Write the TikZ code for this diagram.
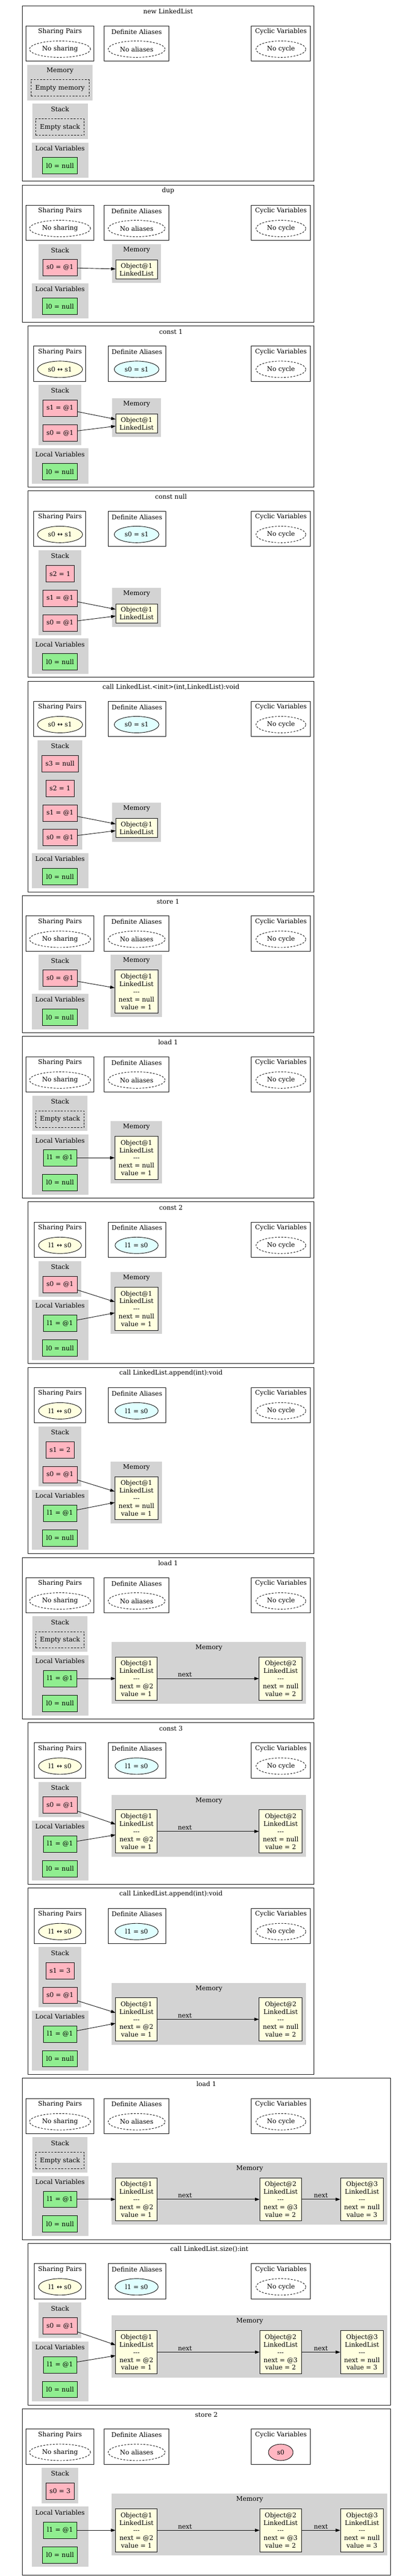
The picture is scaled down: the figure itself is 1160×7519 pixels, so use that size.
\documentclass[tikz,border=0pt]{standalone}
\usepackage{fontspec}
\setmainfont{DejaVu Serif}
\newfontfamily\arrowfont{DejaVu Sans}
\usepackage{tikz}
\usetikzlibrary{shapes.geometric}
\usetikzlibrary{arrows.meta}
\definecolor{clustergray}{RGB}{211,211,211}
\definecolor{stackpink}{RGB}{255,182,193}
\definecolor{localgreen}{RGB}{144,238,144}
\definecolor{objyellow}{RGB}{255,255,224}
\definecolor{aliascyan}{RGB}{224,255,255}
\newcommand{\gvfont}{\fontsize{14}{16.8}\selectfont}
\tikzset{
    panel/.style = {draw=black, line width=1pt},
    infobox/.style = {draw=black, line width=1pt},
    cluster/.style = {fill=clustergray},
    lbl/.style = {inner sep=0pt, font=\gvfont},
    stacknode/.style = {rectangle, draw=black, line width=1pt, fill=stackpink, minimum height=36pt, minimum width=54pt, inner xsep=8pt, inner ysep=0pt, font=\gvfont},
    localnode/.style = {stacknode, fill=localgreen},
    emptynode/.style = {rectangle, draw=black, line width=1pt, dash pattern=on 4pt off 3pt, minimum height=36pt, inner xsep=8pt, font=\gvfont},
    objnode/.style = {rectangle, draw=black, line width=1pt, fill=objyellow, align=center, minimum height=94.5pt, inner xsep=8pt, inner ysep=0pt, font=\gvfont},
    objsmall/.style = {objnode, minimum height=42pt},
    noneell/.style = {ellipse, draw=black, line width=1pt, dash pattern=on 4pt off 3pt, minimum height=36pt, inner sep=0pt, font=\gvfont},
    nosharing/.style = {noneell, minimum width=134pt},
    noaliases/.style = {noneell, minimum width=125pt},
    nocycle/.style = {noneell, minimum width=109.5pt},
    pairell/.style = {ellipse, draw=black, line width=1pt, fill=objyellow, minimum height=36pt, inner sep=0pt, font=\gvfont},
    aliasell/.style = {pairell, fill=aliascyan},
    cycleell/.style = {pairell, fill=stackpink, minimum width=54pt},
    ref/.style = {-{Triangle[length=10pt,width=7pt]}, line width=1pt, black}, % pointer
    nextlbl/.style = {above, inner sep=3pt, font=\gvfont} % field edge
}
\begin{document}
\begin{tikzpicture}[x=0.75pt,y=-0.75pt]
\useasboundingbox[fill=white] (0,0) rectangle (1160,7519);

\draw[panel] (65,16.5) rectangle (918,529);
\node[lbl] (p1t) at (491.5,33.5) {new LinkedList};
\draw[infobox] (76,75.5) rectangle (275,178.5);
\node[lbl] (p1spt) at (175.5,92.5) {Sharing Pairs};
\node[nosharing] (p1sp) at (175.5,143.5) {No sharing};
\draw[infobox] (305,75.5) rectangle (494,178.5);
\node[lbl] (p1dat) at (399.5,92.5) {Definite Aliases};
\node[noaliases] (p1da) at (399.5,143.5) {No aliases};
\draw[infobox] (735,75.5) rectangle (908,178.5);
\node[lbl] (p1cvt) at (821.5,92.5) {Cyclic Variables};
\node[nocycle] (p1cv) at (821.5,143.5) {No cycle};
\fill[cluster] (80,189) rectangle (271,293);
\node[lbl] (p1memt) at (175.5,206) {Memory};
\node[emptynode, minimum width=127pt] (p1mem) at (175.5,257) {Empty memory};
\fill[cluster] (94,302) rectangle (257,406);
\node[lbl] (p1stt) at (175.5,319) {Stack};
\node[emptynode, minimum width=106pt] (p1st) at (175.5,371) {Empty stack};
\fill[cluster] (93,416) rectangle (259,519);
\node[lbl] (p1lvt) at (175.5,433) {Local Variables};
\node[localnode] (p1l0) at (175.5,484) {l0 = null};

\draw[panel] (65,540) rectangle (918,940);
\node[lbl] (p2t) at (491.5,557) {dup};
\draw[infobox] (76,599) rectangle (275,702);
\node[lbl] (p2spt) at (175.5,616) {Sharing Pairs};
\node[nosharing] (p2sp) at (175.5,667) {No sharing};
\draw[infobox] (305,599) rectangle (494,702);
\node[lbl] (p2dat) at (399.5,616) {Definite Aliases};
\node[noaliases] (p2da) at (399.5,667) {No aliases};
\draw[infobox] (735,599) rectangle (908,702);
\node[lbl] (p2cvt) at (821.5,616) {Cyclic Variables};
\node[nocycle] (p2cv) at (821.5,667) {No cycle};
\fill[cluster] (113,713) rectangle (237,816);
\node[lbl] (p2stt) at (175.5,730) {Stack};
\node[stacknode] (p2s0) at (175.5,781) {s0 = @1};
\fill[cluster] (328,713) rectangle (471,826);
\node[lbl] (p2memt) at (399.5,730) {Memory};
\node[objsmall] (p2o1) at (399.5,786.5) {Object@1\\LinkedList};
\fill[cluster] (93,827) rectangle (259,929);
\node[lbl] (p2lvt) at (175.5,844) {Local Variables};
\node[localnode] (p2l0) at (175.5,894.5) {l0 = null};
\draw[ref] (p2s0) -- (p2o1);

\draw[panel] (82.5,951) rectangle (918,1422);
\node[lbl] (p3t) at (500,968) {const 1};
\draw[infobox] (99,1010) rectangle (251,1113);
\node[lbl] (p3spt) at (175.5,1027) {Sharing Pairs};
\node[pairell, minimum width=99pt] (p3sp) at (175.5,1078) {s0 {\arrowfont ↔} s1};
\draw[infobox] (316,1010) rectangle (485,1113);
\node[lbl] (p3dat) at (400.5,1027) {Definite Aliases};
\node[aliasell, minimum width=98pt] (p3da) at (399.5,1078) {s0 = s1};
\draw[infobox] (735,1010) rectangle (908,1113);
\node[lbl] (p3cvt) at (821.5,1027) {Cyclic Variables};
\node[nocycle] (p3cv) at (821.5,1078) {No cycle};
\fill[cluster] (113,1123) rectangle (238,1299);
\node[lbl] (p3stt) at (175.5,1140) {Stack};
\node[stacknode] (p3s1) at (175.5,1191.5) {s1 = @1};
\node[stacknode] (p3s0) at (175.5,1264) {s0 = @1};
\fill[cluster] (328,1162) rectangle (471,1275);
\node[lbl] (p3memt) at (399.5,1179) {Memory};
\node[objsmall] (p3o1) at (399.5,1236) {Object@1\\LinkedList};
\fill[cluster] (93,1309) rectangle (259,1412);
\node[lbl] (p3lvt) at (175.5,1326) {Local Variables};
\node[localnode] (p3l0) at (175.5,1377) {l0 = null};
\draw[ref] (p3s1) -- (p3o1);
\draw[ref] (p3s0) -- (p3o1);

\draw[panel] (82.5,1433) rectangle (918,1977);
\node[lbl] (p4t) at (500,1450) {const null};
\draw[infobox] (99,1492) rectangle (251,1595);
\node[lbl] (p4spt) at (175.5,1509) {Sharing Pairs};
\node[pairell, minimum width=99pt] (p4sp) at (175.5,1560) {s0 {\arrowfont ↔} s1};
\draw[infobox] (316,1492) rectangle (485,1595);
\node[lbl] (p4dat) at (400.5,1509) {Definite Aliases};
\node[aliasell, minimum width=98pt] (p4da) at (399.5,1560) {s0 = s1};
\draw[infobox] (735,1492) rectangle (908,1595);
\node[lbl] (p4cvt) at (821.5,1509) {Cyclic Variables};
\node[nocycle] (p4cv) at (821.5,1560) {No cycle};
\fill[cluster] (113,1606) rectangle (238,1854);
\node[lbl] (p4stt) at (175.5,1623) {Stack};
\node[stacknode] (p4s2) at (175.5,1674.5) {s2 = 1};
\node[stacknode] (p4s1) at (175.5,1746.5) {s1 = @1};
\node[stacknode] (p4s0) at (175.5,1818.5) {s0 = @1};
\fill[cluster] (328,1716.5) rectangle (471,1829.5);
\node[lbl] (p4memt) at (399.5,1733.5) {Memory};
\node[objsmall] (p4o1) at (399.5,1790.5) {Object@1\\LinkedList};
\fill[cluster] (93,1863.5) rectangle (259,1967);
\node[lbl] (p4lvt) at (175.5,1880.5) {Local Variables};
\node[localnode] (p4l0) at (175.5,1931.5) {l0 = null};
\draw[ref] (p4s1) -- (p4o1);
\draw[ref] (p4s0) -- (p4o1);

\draw[panel] (82.5,1988) rectangle (918,2603.5);
\node[lbl] (p5t) at (500,2005) {call LinkedList.<init>(int,LinkedList):void};
\draw[infobox] (99,2047) rectangle (251,2150);
\node[lbl] (p5spt) at (175.5,2064) {Sharing Pairs};
\node[pairell, minimum width=99pt] (p5sp) at (175.5,2115) {s0 {\arrowfont ↔} s1};
\draw[infobox] (316,2047) rectangle (485,2150);
\node[lbl] (p5dat) at (400.5,2064) {Definite Aliases};
\node[aliasell, minimum width=98pt] (p5da) at (399.5,2115) {s0 = s1};
\draw[infobox] (735,2047) rectangle (908,2150);
\node[lbl] (p5cvt) at (821.5,2064) {Cyclic Variables};
\node[nocycle] (p5cv) at (821.5,2115) {No cycle};
\fill[cluster] (110.5,2161) rectangle (240,2480);
\node[lbl] (p5stt) at (175.5,2178) {Stack};
\node[stacknode] (p5s3) at (175.5,2229) {s3 = null};
\node[stacknode] (p5s2) at (175.5,2301) {s2 = 1};
\node[stacknode] (p5s1) at (175.5,2373) {s1 = @1};
\node[stacknode] (p5s0) at (175.5,2445) {s0 = @1};
\fill[cluster] (328,2343) rectangle (471,2456.5);
\node[lbl] (p5memt) at (399.5,2360) {Memory};
\node[objsmall] (p5o1) at (399.5,2417) {Object@1\\LinkedList};
\fill[cluster] (93,2490) rectangle (259,2593);
\node[lbl] (p5lvt) at (175.5,2507) {Local Variables};
\node[localnode] (p5l0) at (175.5,2558.5) {l0 = null};
\draw[ref] (p5s1) -- (p5o1);
\draw[ref] (p5s0) -- (p5o1);

\draw[panel] (65,2614.5) rectangle (918,3014.5);
\node[lbl] (p6t) at (491.5,2631.5) {store 1};
\draw[infobox] (76,2673.5) rectangle (275,2776.5);
\node[lbl] (p6spt) at (175.5,2690.5) {Sharing Pairs};
\node[nosharing] (p6sp) at (175.5,2741.5) {No sharing};
\draw[infobox] (305,2673.5) rectangle (494,2776.5);
\node[lbl] (p6dat) at (399.5,2690.5) {Definite Aliases};
\node[noaliases] (p6da) at (399.5,2741.5) {No aliases};
\draw[infobox] (735,2673.5) rectangle (908,2776.5);
\node[lbl] (p6cvt) at (821.5,2690.5) {Cyclic Variables};
\node[nocycle] (p6cv) at (821.5,2741.5) {No cycle};
\fill[cluster] (113,2787) rectangle (238,2890.5);
\node[lbl] (p6stt) at (175.5,2804) {Stack};
\node[stacknode] (p6s0) at (175.5,2855.5) {s0 = @1};
\fill[cluster] (324,2787) rectangle (474,2968);
\node[lbl] (p6memt) at (399,2804) {Memory};
\node[objnode] (p6o1) at (399,2894.5) {Object@1\\LinkedList\\-{}-{}-\\next = null\\value = 1};
\fill[cluster] (93,2900.5) rectangle (259,3004);
\node[lbl] (p6lvt) at (175.5,2917.5) {Local Variables};
\node[localnode] (p6l0) at (175.5,2969.5) {l0 = null};
\draw[ref] (p6s0) -- (p6o1);

\draw[panel] (65,3025.5) rectangle (918,3497);
\node[lbl] (p7t) at (491.5,3042.5) {load 1};
\draw[infobox] (76,3084.5) rectangle (275,3187.5);
\node[lbl] (p7spt) at (175.5,3101.5) {Sharing Pairs};
\node[nosharing] (p7sp) at (175.5,3152.5) {No sharing};
\draw[infobox] (305,3084.5) rectangle (494,3187.5);
\node[lbl] (p7dat) at (399.5,3101.5) {Definite Aliases};
\node[noaliases] (p7da) at (399.5,3152.5) {No aliases};
\draw[infobox] (735,3084.5) rectangle (908,3187.5);
\node[lbl] (p7cvt) at (821.5,3101.5) {Cyclic Variables};
\node[nocycle] (p7cv) at (821.5,3152.5) {No cycle};
\fill[cluster] (94,3198) rectangle (256,3301.5);
\node[lbl] (p7stt) at (175.5,3215) {Stack};
\node[emptynode, minimum width=106pt] (p7st) at (175.5,3266.5) {Empty stack};
\fill[cluster] (93,3311.5) rectangle (259,3487);
\node[lbl] (p7lvt) at (175.5,3328.5) {Local Variables};
\node[localnode] (p7l1) at (175.5,3379.5) {l1 = @1};
\node[localnode] (p7l0) at (175.5,3451.5) {l0 = null};
\fill[cluster] (324,3272.5) rectangle (474,3453.5);
\node[lbl] (p7memt) at (399,3289.5) {Memory};
\node[objnode] (p7o1) at (399,3379.5) {Object@1\\LinkedList\\-{}-{}-\\next = null\\value = 1};
\draw[ref] (p7l1) -- (p7o1);

\draw[panel] (82.5,3508) rectangle (918,3980);
\node[lbl] (p8t) at (500,3525) {const 2};
\draw[infobox] (100,3567) rectangle (251,3670);
\node[lbl] (p8spt) at (175.5,3584) {Sharing Pairs};
\node[pairell, minimum width=94pt] (p8sp) at (175.5,3635) {l1 {\arrowfont ↔} s0};
\draw[infobox] (316,3567) rectangle (485,3670);
\node[lbl] (p8dat) at (400.5,3584) {Definite Aliases};
\node[aliasell, minimum width=94.5pt] (p8da) at (399.5,3635) {l1 = s0};
\draw[infobox] (735,3567) rectangle (908,3670);
\node[lbl] (p8cvt) at (821.5,3584) {Cyclic Variables};
\node[nocycle] (p8cv) at (821.5,3635) {No cycle};
\fill[cluster] (113,3681) rectangle (238,3784.5);
\node[lbl] (p8stt) at (175.5,3698) {Stack};
\node[stacknode] (p8s0) at (175.5,3749) {s0 = @1};
\fill[cluster] (93,3794) rectangle (259,3969.5);
\node[lbl] (p8lvt) at (175.5,3811) {Local Variables};
\node[localnode] (p8l1) at (175.5,3862.5) {l1 = @1};
\node[localnode] (p8l0) at (175.5,3934.5) {l0 = null};
\fill[cluster] (324,3712.5) rectangle (474,3893.5);
\node[lbl] (p8memt) at (399,3729.5) {Memory};
\node[objnode] (p8o1) at (399,3820) {Object@1\\LinkedList\\-{}-{}-\\next = null\\value = 1};
\draw[ref] (p8s0) -- (p8o1);
\draw[ref] (p8l1) -- (p8o1);

\draw[panel] (82.5,3991) rectangle (918,4534.5);
\node[lbl] (p9t) at (500,4008) {call LinkedList.append(int):void};
\draw[infobox] (100,4050) rectangle (251,4153);
\node[lbl] (p9spt) at (175.5,4067) {Sharing Pairs};
\node[pairell, minimum width=94pt] (p9sp) at (175.5,4118) {l1 {\arrowfont ↔} s0};
\draw[infobox] (316,4050) rectangle (485,4153);
\node[lbl] (p9dat) at (400.5,4067) {Definite Aliases};
\node[aliasell, minimum width=94.5pt] (p9da) at (399.5,4118) {l1 = s0};
\draw[infobox] (735,4050) rectangle (908,4153);
\node[lbl] (p9cvt) at (821.5,4067) {Cyclic Variables};
\node[nocycle] (p9cv) at (821.5,4118) {No cycle};
\fill[cluster] (113,4163.5) rectangle (238,4339);
\node[lbl] (p9stt) at (175.5,4180.5) {Stack};
\node[stacknode] (p9s1) at (175.5,4232) {s1 = 2};
\node[stacknode] (p9s0) at (175.5,4304) {s0 = @1};
\fill[cluster] (324,4266.5) rectangle (474,4446.5);
\node[lbl] (p9memt) at (399,4283.5) {Memory};
\node[objnode] (p9o1) at (399,4373) {Object@1\\LinkedList\\-{}-{}-\\next = null\\value = 1};
\fill[cluster] (93,4349) rectangle (259,4524);
\node[lbl] (p9lvt) at (175.5,4366) {Local Variables};
\node[localnode] (p9l1) at (175.5,4417) {l1 = @1};
\node[localnode] (p9l0) at (175.5,4489) {l0 = null};
\draw[ref] (p9s0) -- (p9o1);
\draw[ref] (p9l1) -- (p9o1);

\draw[panel] (65,4546) rectangle (918,5017);
\node[lbl] (p10t) at (491.5,4563) {load 1};
\draw[infobox] (76,4605) rectangle (275,4708);
\node[lbl] (p10spt) at (175.5,4622) {Sharing Pairs};
\node[nosharing] (p10sp) at (175.5,4673) {No sharing};
\draw[infobox] (305,4605) rectangle (494,4708);
\node[lbl] (p10dat) at (399.5,4622) {Definite Aliases};
\node[noaliases] (p10da) at (399.5,4673) {No aliases};
\draw[infobox] (735,4605) rectangle (908,4708);
\node[lbl] (p10cvt) at (821.5,4622) {Cyclic Variables};
\node[nocycle] (p10cv) at (821.5,4673) {No cycle};
\fill[cluster] (94,4718) rectangle (256,4821.5);
\node[lbl] (p10stt) at (175.5,4735) {Stack};
\node[emptynode, minimum width=106pt] (p10st) at (175.5,4786.5) {Empty stack};
\fill[cluster] (93,4831.5) rectangle (259,5007);
\node[lbl] (p10lvt) at (175.5,4848.5) {Local Variables};
\node[localnode] (p10l1) at (175.5,4899.5) {l1 = @1};
\node[localnode] (p10l0) at (175.5,4971.5) {l0 = null};
\fill[cluster] (327,4792.5) rectangle (895.5,4973.5);
\node[lbl] (p10memt) at (611,4809.5) {Memory};
\node[objnode] (p10o1) at (399,4899.5) {Object@1\\LinkedList\\-{}-{}-\\next = @2\\value = 1};
\node[objnode] (p10o2) at (820.75,4899.5) {Object@2\\LinkedList\\-{}-{}-\\next = null\\value = 2};
\draw[ref] (p10l1) -- (p10o1);
\draw[ref] (p10o1) -- node[nextlbl, pos=0.27] (p10n1) {next} (p10o2);

\draw[panel] (82.5,5028) rectangle (918,5500);
\node[lbl] (p11t) at (500,5045) {const 3};
\draw[infobox] (100,5087) rectangle (251,5190);
\node[lbl] (p11spt) at (175.5,5104) {Sharing Pairs};
\node[pairell, minimum width=94pt] (p11sp) at (175.5,5155) {l1 {\arrowfont ↔} s0};
\draw[infobox] (316,5087) rectangle (485,5190);
\node[lbl] (p11dat) at (400.5,5104) {Definite Aliases};
\node[aliasell, minimum width=94.5pt] (p11da) at (399.5,5155) {l1 = s0};
\draw[infobox] (735,5087) rectangle (908,5190);
\node[lbl] (p11cvt) at (821.5,5104) {Cyclic Variables};
\node[nocycle] (p11cv) at (821.5,5155) {No cycle};
\fill[cluster] (113,5201) rectangle (238,5304.5);
\node[lbl] (p11stt) at (175.5,5218) {Stack};
\node[stacknode] (p11s0) at (175.5,5269) {s0 = @1};
\fill[cluster] (93,5314) rectangle (259,5489.5);
\node[lbl] (p11lvt) at (175.5,5331) {Local Variables};
\node[localnode] (p11l1) at (175.5,5382.5) {l1 = @1};
\node[localnode] (p11l0) at (175.5,5454.5) {l0 = null};
\fill[cluster] (327,5238.5) rectangle (895.5,5419.5);
\node[lbl] (p11memt) at (611,5255.5) {Memory};
\node[objnode] (p11o1) at (399,5345.5) {Object@1\\LinkedList\\-{}-{}-\\next = @2\\value = 1};
\node[objnode] (p11o2) at (820.75,5345.5) {Object@2\\LinkedList\\-{}-{}-\\next = null\\value = 2};
\draw[ref] (p11s0) -- (p11o1);
\draw[ref] (p11l1) -- (p11o1);
\draw[ref] (p11o1) -- node[nextlbl, pos=0.27] (p11n1) {next} (p11o2);

\draw[panel] (82.5,5511) rectangle (918,6054.5);
\node[lbl] (p12t) at (500,5528) {call LinkedList.append(int):void};
\draw[infobox] (100,5570) rectangle (251,5673);
\node[lbl] (p12spt) at (175.5,5587) {Sharing Pairs};
\node[pairell, minimum width=94pt] (p12sp) at (175.5,5638) {l1 {\arrowfont ↔} s0};
\draw[infobox] (316,5570) rectangle (485,5673);
\node[lbl] (p12dat) at (400.5,5587) {Definite Aliases};
\node[aliasell, minimum width=94.5pt] (p12da) at (399.5,5638) {l1 = s0};
\draw[infobox] (735,5570) rectangle (908,5673);
\node[lbl] (p12cvt) at (821.5,5587) {Cyclic Variables};
\node[nocycle] (p12cv) at (821.5,5638) {No cycle};
\fill[cluster] (113,5683.5) rectangle (238,5859);
\node[lbl] (p12stt) at (175.5,5700.5) {Stack};
\node[stacknode] (p12s1) at (175.5,5752) {s1 = 3};
\node[stacknode] (p12s0) at (175.5,5824) {s0 = @1};
\fill[cluster] (327,5787.5) rectangle (895.5,5968);
\node[lbl] (p12memt) at (611,5804.5) {Memory};
\node[objnode] (p12o1) at (399,5894) {Object@1\\LinkedList\\-{}-{}-\\next = @2\\value = 1};
\node[objnode] (p12o2) at (820.75,5894) {Object@2\\LinkedList\\-{}-{}-\\next = null\\value = 2};
\fill[cluster] (93,5869) rectangle (259,6044);
\node[lbl] (p12lvt) at (175.5,5886) {Local Variables};
\node[localnode] (p12l1) at (175.5,5937) {l1 = @1};
\node[localnode] (p12l0) at (175.5,6009) {l0 = null};
\draw[ref] (p12s0) -- (p12o1);
\draw[ref] (p12l1) -- (p12o1);
\draw[ref] (p12o1) -- node[nextlbl, pos=0.27] (p12n1) {next} (p12o2);

\draw[panel] (65,6066) rectangle (1142,6537);
\node[lbl] (p13t) at (603.5,6083) {load 1};
\draw[infobox] (76,6125) rectangle (275,6228);
\node[lbl] (p13spt) at (175.5,6142) {Sharing Pairs};
\node[nosharing] (p13sp) at (175.5,6193) {No sharing};
\draw[infobox] (305,6125) rectangle (494,6228);
\node[lbl] (p13dat) at (399.5,6142) {Definite Aliases};
\node[noaliases] (p13da) at (399.5,6193) {No aliases};
\draw[infobox] (735,6125) rectangle (908,6228);
\node[lbl] (p13cvt) at (821.5,6142) {Cyclic Variables};
\node[nocycle] (p13cv) at (821.5,6193) {No cycle};
\fill[cluster] (94,6238) rectangle (256,6341.5);
\node[lbl] (p13stt) at (175.5,6255) {Stack};
\node[emptynode, minimum width=106pt] (p13st) at (175.5,6306.5) {Empty stack};
\fill[cluster] (93,6351.5) rectangle (259,6527);
\node[lbl] (p13lvt) at (175.5,6368.5) {Local Variables};
\node[localnode] (p13l1) at (175.5,6419.5) {l1 = @1};
\node[localnode] (p13l0) at (175.5,6491.5) {l0 = null};
\fill[cluster] (327,6312.5) rectangle (1133,6493.5);
\node[lbl] (p13memt) at (730,6329.5) {Memory};
\node[objnode] (p13o1) at (399,6419.5) {Object@1\\LinkedList\\-{}-{}-\\next = @2\\value = 1};
\node[objnode] (p13o2) at (820.5,6419.5) {Object@2\\LinkedList\\-{}-{}-\\next = @3\\value = 2};
\node[objnode] (p13o3) at (1058.5,6419.5) {Object@3\\LinkedList\\-{}-{}-\\next = null\\value = 3};
\draw[ref] (p13l1) -- (p13o1);
\draw[ref] (p13o1) -- node[nextlbl, pos=0.27] (p13n1) {next} (p13o2);
\draw[ref] (p13o2) -- node[nextlbl] (p13n2) {next} (p13o3);

\draw[panel] (82.5,6548) rectangle (1142,7020);
\node[lbl] (p14t) at (612,6565) {call LinkedList.size():int};
\draw[infobox] (100,6607) rectangle (251,6710);
\node[lbl] (p14spt) at (175.5,6624) {Sharing Pairs};
\node[pairell, minimum width=94pt] (p14sp) at (175.5,6675) {l1 {\arrowfont ↔} s0};
\draw[infobox] (316,6607) rectangle (485,6710);
\node[lbl] (p14dat) at (400.5,6624) {Definite Aliases};
\node[aliasell, minimum width=94.5pt] (p14da) at (399.5,6675) {l1 = s0};
\draw[infobox] (735,6607) rectangle (908,6710);
\node[lbl] (p14cvt) at (821.5,6624) {Cyclic Variables};
\node[nocycle] (p14cv) at (821.5,6675) {No cycle};
\fill[cluster] (113,6721) rectangle (238,6824.5);
\node[lbl] (p14stt) at (175.5,6738) {Stack};
\node[stacknode] (p14s0) at (175.5,6789) {s0 = @1};
\fill[cluster] (93,6834) rectangle (259,7009.5);
\node[lbl] (p14lvt) at (175.5,6851) {Local Variables};
\node[localnode] (p14l1) at (175.5,6902.5) {l1 = @1};
\node[localnode] (p14l0) at (175.5,6974.5) {l0 = null};
\fill[cluster] (327,6758.5) rectangle (1133,6939.5);
\node[lbl] (p14memt) at (730,6775.5) {Memory};
\node[objnode] (p14o1) at (399,6865.5) {Object@1\\LinkedList\\-{}-{}-\\next = @2\\value = 1};
\node[objnode] (p14o2) at (820.5,6865.5) {Object@2\\LinkedList\\-{}-{}-\\next = @3\\value = 2};
\node[objnode] (p14o3) at (1058.5,6865.5) {Object@3\\LinkedList\\-{}-{}-\\next = null\\value = 3};
\draw[ref] (p14s0) -- (p14o1);
\draw[ref] (p14l1) -- (p14o1);
\draw[ref] (p14o1) -- node[nextlbl, pos=0.27] (p14n1) {next} (p14o2);
\draw[ref] (p14o2) -- node[nextlbl] (p14n2) {next} (p14o3);

\draw[panel] (65,7031) rectangle (1142,7516);
\node[lbl] (p15t) at (603.5,7048) {store 2};
\draw[infobox] (76,7090) rectangle (275,7193);
\node[lbl] (p15spt) at (175.5,7107) {Sharing Pairs};
\node[nosharing] (p15sp) at (175.5,7158) {No sharing};
\draw[infobox] (305,7090) rectangle (494,7193);
\node[lbl] (p15dat) at (399.5,7107) {Definite Aliases};
\node[noaliases] (p15da) at (399.5,7158) {No aliases};
\draw[infobox] (735,7090) rectangle (908,7193);
\node[lbl] (p15cvt) at (821.5,7107) {Cyclic Variables};
\node[cycleell] (p15cv) at (821,7158) {s0};
\fill[cluster] (122.5,7203) rectangle (228,7307);
\node[lbl] (p15stt) at (175.5,7220) {Stack};
\node[stacknode] (p15s0) at (175.5,7271.5) {s0 = 3};
\fill[cluster] (93,7316.5) rectangle (259,7492);
\node[lbl] (p15lvt) at (175.5,7333.5) {Local Variables};
\node[localnode] (p15l1) at (175.5,7385.5) {l1 = @1};
\node[localnode] (p15l0) at (175.5,7457.5) {l0 = null};
\fill[cluster] (327,7278.5) rectangle (1133,7459.5);
\node[lbl] (p15memt) at (730,7295.5) {Memory};
\node[objnode] (p15o1) at (399,7385.5) {Object@1\\LinkedList\\-{}-{}-\\next = @2\\value = 1};
\node[objnode] (p15o2) at (820.5,7385.5) {Object@2\\LinkedList\\-{}-{}-\\next = @3\\value = 2};
\node[objnode] (p15o3) at (1058.5,7385.5) {Object@3\\LinkedList\\-{}-{}-\\next = null\\value = 3};
\draw[ref] (p15l1) -- (p15o1);
\draw[ref] (p15o1) -- node[nextlbl, pos=0.27] (p15n1) {next} (p15o2);
\draw[ref] (p15o2) -- node[nextlbl] (p15n2) {next} (p15o3);

\end{tikzpicture}
\end{document}
